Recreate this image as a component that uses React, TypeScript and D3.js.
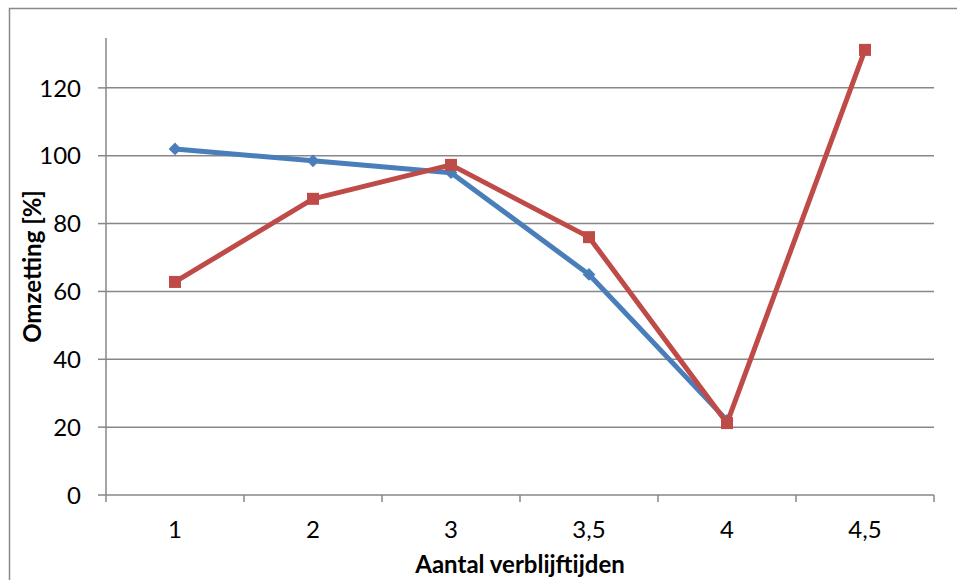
import React from "react";
import * as d3 from "d3";

const categories = ["1", "2", "3", "3,5", "4", "4,5"];
const seriesBlue: (number | null)[] = [102, 98.5, 95, 65, 22, null];
const seriesRed: (number | null)[] = [62.8, 87.3, 97.3, 76, 21.2, 131.2];
const yTicks = [0, 20, 40, 60, 80, 100, 120];

export default function App() {
  const W = 957, H = 580;
  const left = 106, right = 934, top = 38, bottom = 495;
  const x = d3.scaleBand().domain(categories).range([left, right]);
  const y = d3.scaleLinear().domain([0, 134.7]).range([bottom, top]);
  const cx = (c: string) => (x(c) as number) + x.bandwidth() / 2;
  const line = d3
    .line<number | null>()
    .defined((d) => d != null)
    .x((_, i) => cx(categories[i]))
    .y((d) => y(d as number));
  const font = "Lato, 'Open Sans', sans-serif";
  const blue = "#4A7EBB";
  const red = "#BE4B48";
  const boundaries = [...categories.map((c) => x(c) as number), right];
  return (
    <svg width={W} height={H} style={{ position: "absolute", left: 0, top: 0, background: "#fff" }}>
      <rect x={9.5} y={8.5} width={W} height={H} fill="#fff" stroke="#898989" strokeWidth={1.5} />
      {yTicks.map((t) => (
        <g key={t}>
          {t > 0 && <line x1={left} x2={right} y1={y(t)} y2={y(t)} stroke="#878787" strokeWidth={1.5} />}
          <line x1={98} x2={left} y1={y(t)} y2={y(t)} stroke="#878787" strokeWidth={1.5} />
          <text x={81} y={y(t)} dy="0.36em" textAnchor="end" fontFamily={font} fontSize={24} fill="#000">
            {t}
          </text>
        </g>
      ))}
      <line x1={left} x2={left} y1={top} y2={bottom} stroke="#878787" strokeWidth={1.5} />
      <line x1={left} x2={right} y1={bottom} y2={bottom} stroke="#878787" strokeWidth={1.5} />
      {boundaries.map((b, i) => (
        <line key={i} x1={b} x2={b} y1={bottom} y2={bottom + 7} stroke="#878787" strokeWidth={1.5} />
      ))}
      {categories.map((c) => (
        <text key={c} x={cx(c)} y={538} textAnchor="middle" fontFamily={font} fontSize={24} fill="#000">
          {c}
        </text>
      ))}
      <path d={line(seriesBlue) || ""} fill="none" stroke={blue} strokeWidth={5} strokeLinejoin="round" />
      {seriesBlue.map((v, i) =>
        v == null ? null : (
          <rect
            key={i}
            x={-4.5}
            y={-4.5}
            width={9}
            height={9}
            fill={blue}
            transform={`translate(${cx(categories[i])},${y(v)}) rotate(45)`}
          />
        )
      )}
      <path d={line(seriesRed) || ""} fill="none" stroke={red} strokeWidth={5} strokeLinejoin="round" />
      {seriesRed.map((v, i) =>
        v == null ? null : (
          <rect key={i} x={cx(categories[i]) - 6} y={y(v) - 6} width={12} height={12} fill={red} />
        )
      )}
      <text
        transform={`translate(41,${(top + bottom) / 2}) rotate(-90)`}
        textAnchor="middle"
        fontFamily={font}
        fontWeight="bold"
        fontSize={24}
        fill="#000"
      >
        Omzetting [%]
      </text>
      <text x={(left + right) / 2} y={573} textAnchor="middle" fontFamily={font} fontWeight="bold" fontSize={24} fill="#000">
        Aantal verblijftijden
      </text>
    </svg>
  );
}
